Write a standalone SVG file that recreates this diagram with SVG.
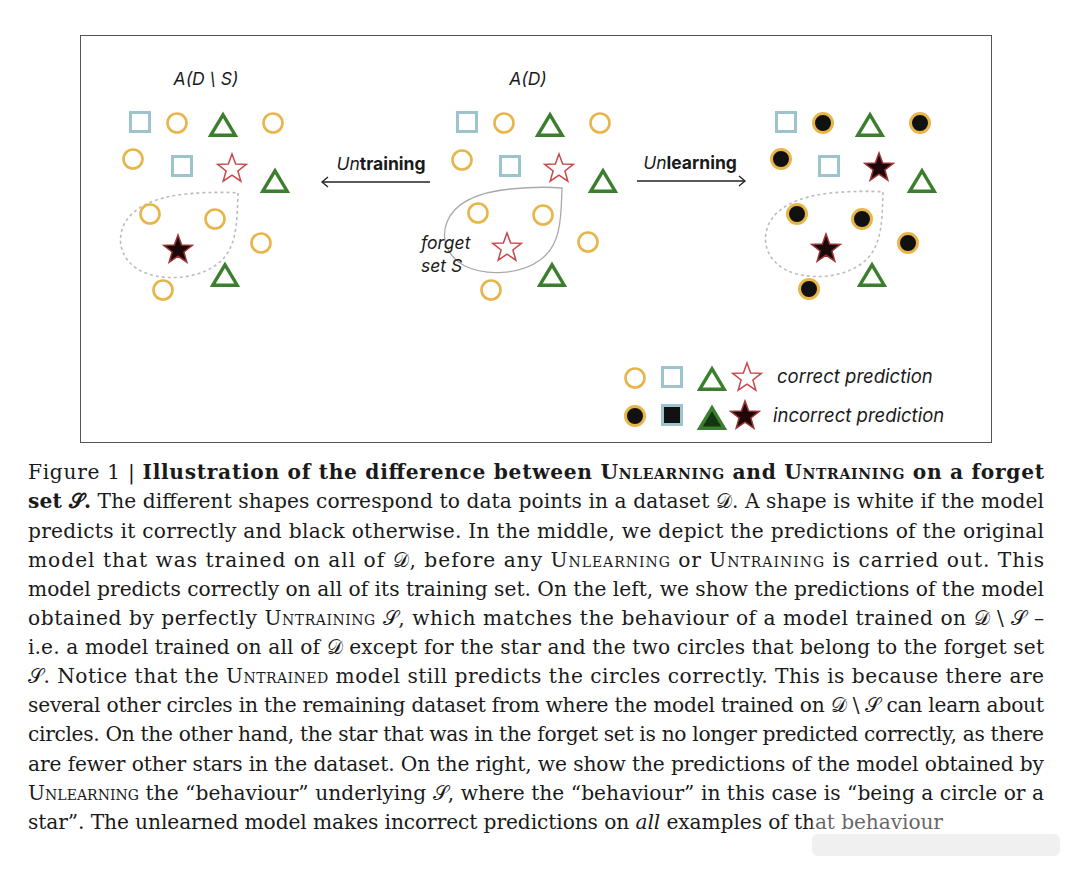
<svg xmlns="http://www.w3.org/2000/svg" xmlns:xlink="http://www.w3.org/1999/xlink" width="1080" height="870" viewBox="0 0 1080 870">
<style>
.lbl{font-family:Inter,"Liberation Sans",sans-serif;font-size:17.5px;fill:#1a1a1a}
.leg{font-size:18.5px}
.it{font-style:italic}
.bd{font-weight:bold}
.cap{font-family:"DejaVu Serif","Liberation Serif",serif;font-size:20.2px;fill:#1a1a1a}
.sc{font-variant:small-caps}
.b{font-weight:bold}
.blobS{fill:none;stroke:#a9a9a9;stroke-width:1.3}
.blobD{fill:none;stroke:#bcbcbc;stroke-width:1.6;stroke-dasharray:3 3}
.arr{stroke:#222;stroke-width:1.3;fill:none}
</style>
<defs>
<circle id="co" r="9.5" fill="#fff" stroke="#E8B54A" stroke-width="2.6"/>
<circle id="cb" r="9.5" fill="#111" stroke="#E8B54A" stroke-width="3"/>
<rect id="so" x="-9.5" y="-9.5" width="19" height="19" fill="#fff" stroke="#9DC3CC" stroke-width="3"/>
<rect id="sb" x="-9.5" y="-9.5" width="19" height="19" fill="#111" stroke="#9DC3CC" stroke-width="3"/>
<polygon id="to" points="-12.2,10.2 0,-10.2 12.2,10.2" fill="#fff" stroke="#3B7F2E" stroke-width="3.4"/>
<polygon id="tb" points="-12.2,10.2 0,-10.2 12.2,10.2" fill="#143514" stroke="#3B7F2E" stroke-width="3.4"/>
<polygon id="sto" points="0,-15 3.64,-5.02 14.27,-4.64 5.9,1.92 8.82,12.14 0,6.2 -8.82,12.14 -5.9,1.92 -14.27,-4.64 -3.64,-5.02" fill="#fff" stroke="#C9464A" stroke-width="1.5" stroke-linejoin="miter"/>
<polygon id="stb" points="0,-15 3.64,-5.02 14.27,-4.64 5.9,1.92 8.82,12.14 0,6.2 -8.82,12.14 -5.9,1.92 -14.27,-4.64 -3.64,-5.02" fill="#1c0808" stroke="#9B3434" stroke-width="1.5"/>
<path id="blob" d="M562,188 C561,215 562,245 540,260 C520,275 485,276 465,266 C448,257 440,240 447,222 C455,202 480,192 510,189 C530,187 550,187 562,188 Z"/>
</defs>
<rect x="0" y="0" width="1080" height="870" fill="#fff"/>
<rect x="80.5" y="35.5" width="911" height="407" fill="#fff" stroke="#555" stroke-width="1"/>

<!-- Left panel: A(D \ S) -->
<g id="panel-left">
<text class="lbl it" x="206" y="85" text-anchor="middle">A(D \ S)</text>
<g transform="translate(-327,0)">
<use href="#blob" class="blobD" transform="translate(3,5)"/>
<use href="#so" x="467" y="122"/>
<use href="#co" x="504" y="123"/>
<use href="#to" x="550" y="125"/>
<use href="#co" x="600" y="123"/>
<use href="#co" x="460" y="159"/>
<use href="#so" x="509" y="166"/>
<use href="#sto" x="559" y="169"/>
<use href="#to" x="602" y="181"/>
<use href="#co" x="477" y="214"/>
<use href="#co" x="542" y="219"/>
<use href="#co" x="588" y="243"/>
<use href="#stb" x="505" y="250"/>
<use href="#to" x="552" y="275"/>
<use href="#co" x="490" y="290"/>
</g>
</g>

<!-- Middle panel: A(D) -->
<g id="panel-middle">
<text class="lbl it" x="528" y="85" text-anchor="middle">A(D)</text>
<use href="#blob" class="blobS"/>
<use href="#so" x="467" y="122"/>
<use href="#co" x="504" y="123"/>
<use href="#to" x="550" y="125"/>
<use href="#co" x="600" y="123"/>
<use href="#co" x="462" y="160"/>
<use href="#so" x="510" y="166"/>
<use href="#sto" x="559" y="169"/>
<use href="#to" x="603" y="181"/>
<use href="#co" x="478" y="213"/>
<use href="#co" x="543" y="215"/>
<use href="#co" x="588" y="242"/>
<use href="#sto" x="507" y="248"/>
<use href="#to" x="552" y="275"/>
<use href="#co" x="491" y="290"/>
<text class="lbl it" x="421" y="249">forget</text>
<text class="lbl it" x="421" y="272">set S</text>
</g>

<!-- Right panel -->
<g id="panel-right">
<g transform="translate(319,0)">
<use href="#blob" class="blobD" transform="translate(2,4)"/>
<use href="#so" x="467" y="122"/>
<use href="#cb" x="504" y="123"/>
<use href="#to" x="551" y="125"/>
<use href="#cb" x="601" y="123"/>
<use href="#cb" x="462" y="159"/>
<use href="#so" x="510" y="166"/>
<use href="#stb" x="560" y="168"/>
<use href="#to" x="603" y="181"/>
<use href="#cb" x="478" y="214"/>
<use href="#cb" x="543" y="219"/>
<use href="#cb" x="589" y="243"/>
<use href="#stb" x="507" y="249"/>
<use href="#to" x="553" y="275"/>
<use href="#cb" x="490" y="289"/>
</g>
</g>

<!-- Connectors -->
<g id="connectors">
<g id="untraining">
<text class="lbl" x="381" y="170" text-anchor="middle"><tspan class="it">Un</tspan><tspan class="bd">training</tspan></text>
<line class="arr" x1="430" y1="182" x2="322" y2="182"/>
<polyline class="arr" points="328,177 322,182 328,187"/>
</g>
<g id="unlearning">
<text class="lbl" x="690" y="169" text-anchor="middle"><tspan class="it">Un</tspan><tspan class="bd">learning</tspan></text>
<line class="arr" x1="637" y1="181" x2="745" y2="181"/>
<polyline class="arr" points="739,176 745,181 739,186"/>
</g>
</g>

<!-- Legend -->
<g id="legend">
<use href="#co" x="635" y="378"/>
<use href="#so" x="672" y="377"/>
<use href="#to" x="712" y="379"/>
<use href="#sto" x="747" y="378"/>
<text class="lbl leg it" x="777" y="383">correct prediction</text>
<use href="#cb" x="635" y="416"/>
<use href="#sb" x="672" y="415"/>
<use href="#tb" x="712" y="418"/>
<use href="#stb" x="745" y="416"/>
<text class="lbl leg it" x="773" y="422">incorrect prediction</text>
</g>

<!-- Caption -->
<g id="caption" class="cap">
<text x="28" y="479" textLength="1016" lengthAdjust="spacing">Figure 1 | <tspan class="b">Illustration of the difference between <tspan class="sc">Unlearning</tspan> and <tspan class="sc">Untraining</tspan> on a forget</tspan></text>
<text x="28" y="508" textLength="1016" lengthAdjust="spacing"><tspan class="b">set 𝒮.</tspan> The different shapes correspond to data points in a dataset 𝒟. A shape is white if the model</text>
<text x="28" y="537.5" textLength="1016" lengthAdjust="spacing">predicts it correctly and black otherwise. In the middle, we depict the predictions of the original</text>
<text x="28" y="567" textLength="1016" lengthAdjust="spacing">model that was trained on all of 𝒟, before any <tspan class="sc">Unlearning</tspan> or <tspan class="sc">Untraining</tspan> is carried out. This</text>
<text x="28" y="596" textLength="1016" lengthAdjust="spacing">model predicts correctly on all of its training set. On the left, we show the predictions of the model</text>
<text x="28" y="625" textLength="1016" lengthAdjust="spacing">obtained by perfectly <tspan class="sc">Untraining</tspan> 𝒮, which matches the behaviour of a model trained on 𝒟 \ 𝒮 –</text>
<text x="28" y="654" textLength="1016" lengthAdjust="spacing">i.e. a model trained on all of 𝒟 except for the star and the two circles that belong to the forget set</text>
<text x="28" y="683" textLength="1016" lengthAdjust="spacing">𝒮. Notice that the <tspan class="sc">Untrained</tspan> model still predicts the circles correctly. This is because there are</text>
<text x="28" y="712" textLength="1016" lengthAdjust="spacing">several other circles in the remaining dataset from where the model trained on 𝒟 \ 𝒮 can learn about</text>
<text x="28" y="741" textLength="1016" lengthAdjust="spacing">circles. On the other hand, the star that was in the forget set is no longer predicted correctly, as there</text>
<text x="28" y="771" textLength="1016" lengthAdjust="spacing">are fewer other stars in the dataset. On the right, we show the predictions of the model obtained by</text>
<text x="28" y="800" textLength="1016" lengthAdjust="spacing"><tspan class="sc">Unlearning</tspan> the “behaviour” underlying 𝒮, where the “behaviour” in this case is “being a circle or a</text>
<text x="28" y="829" textLength="915" lengthAdjust="spacing">star”. The unlearned model makes incorrect predictions on <tspan font-style="italic">all</tspan> examples of that behaviour</text>
</g>

<!-- watermark smear -->
<g id="watermark" opacity="0.55">
<rect x="812" y="812" width="135" height="22" fill="#fff" opacity="0.6"/>
<rect x="812" y="834" width="248" height="22" fill="#e4e4e4" rx="6"/>
</g>
</svg>
